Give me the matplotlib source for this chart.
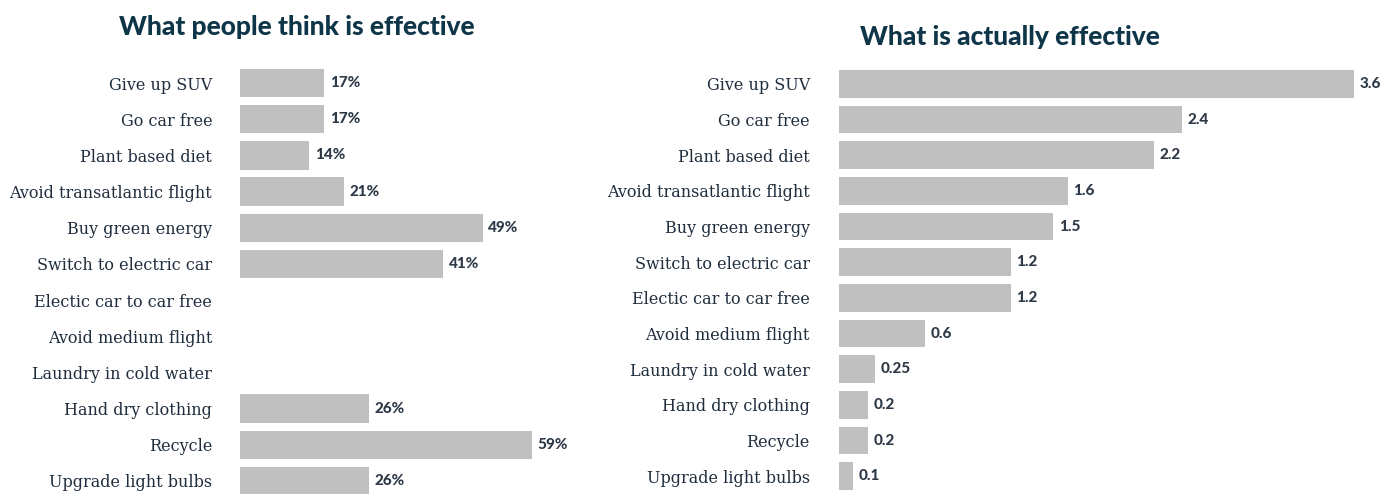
import numpy as np
import matplotlib.pyplot as plt

# --- DATA ---
actions = ["Give up SUV", "Go car free", "Plant based diet", "Avoid transatlantic flight",
           "Buy green energy", "Switch to electric car", "Electic car to car free",
           "Avoid medium flight", "Laundry in cold water", "Hand dry clothing",
           "Recycle", "Upgrade light bulbs"]
perceived = [17, 17, 14, 21, 49, 41, np.nan, np.nan, np.nan, 26, 59, 26]
perceived_labels = ["17%", "17%", "14%", "21%", "49%", "41%", "", "", "", "26%", "59%", "26%"]
actual = [3.6, 2.4, 2.2, 1.6, 1.5, 1.2, 1.2, 0.6, 0.25, 0.2, 0.2, 0.1]
actual_labels = ["3.6", "2.4", "2.2", "1.6", "1.5", "1.2", "1.2", "0.6", "0.25", "0.2", "0.2", "0.1"]

W, H = 1398, 494
BAR = "#c0c0c0"
LABEL = "#1f2d3d"
VALUE = "#2e3a48"
TITLE = "#0e3548"

fig = plt.figure(figsize=(W / 100, H / 100), dpi=100)


def make_axes(x0, x1, top_px, bottom_px):
    return fig.add_axes([x0 / W, (H - bottom_px) / H, (x1 - x0) / W, (bottom_px - top_px) / H])


def draw(ax, values, texts, xmax, pad):
    y = np.arange(len(actions))
    ax.barh(y, values, height=0.78, color=BAR)
    for yi, v, t in zip(y, values, texts):
        if t:
            ax.annotate(t, (v, yi), xytext=(4, 0), textcoords="offset points",
                        va="center", ha="left", fontsize=11, fontweight="black",
                        color=VALUE, family="Lato")
    ax.set_xlim(0, xmax)
    ax.set_ylim(len(actions) - 0.5, -0.5)
    ax.set_yticks(y)
    ax.set_yticklabels(actions, family="DejaVu Serif", fontsize=11.5, color=LABEL)
    ax.tick_params(axis="y", length=0, pad=pad)
    ax.set_xticks([])
    for s in ax.spines.values():
        s.set_visible(False)


# left: ~4.95 px per percent, bars start at x=240
ax1 = make_axes(240, 240 + 4.95 * 80, 65, 499)
draw(ax1, perceived, perceived_labels, 80, 20)

# right: ~143 px per unit, bars start at x=839
ax2 = make_axes(839, 839 + 143 * 3.9, 66, 494)
draw(ax2, actual, actual_labels, 3.9, 21)

fig.text(297 / W, 1 - 27 / H, "What people think is effective", ha="center", va="center",
         fontsize=19, fontweight="black", color=TITLE, family="Lato")
fig.text(1010 / W, 1 - 37 / H, "What is actually effective", ha="center", va="center",
         fontsize=19, fontweight="black", color=TITLE, family="Lato")

fig.savefig("out.png", dpi=100)
